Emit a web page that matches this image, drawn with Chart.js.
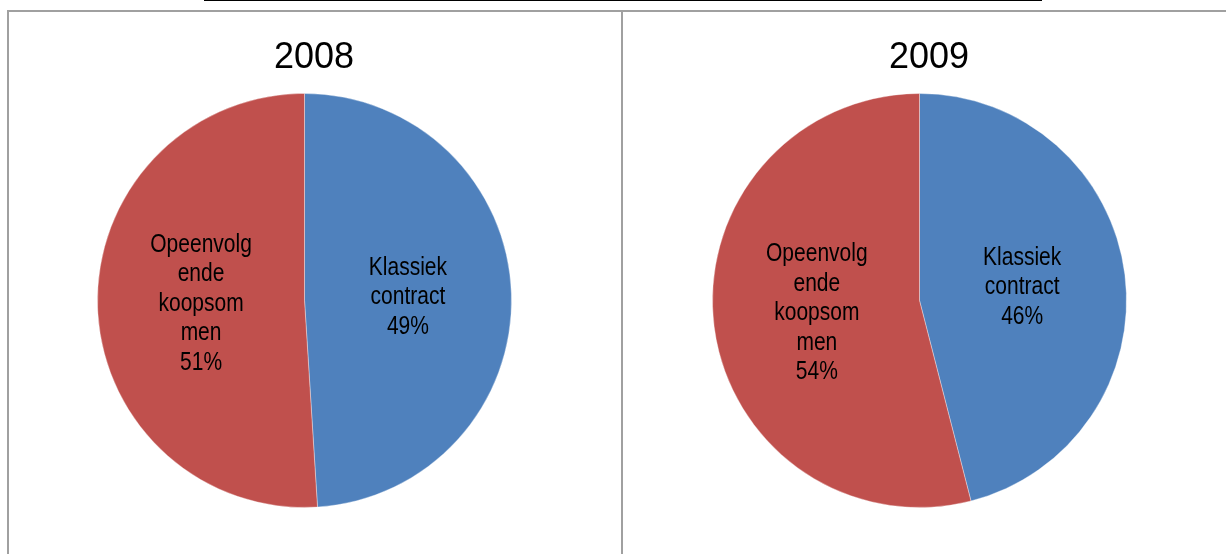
<!DOCTYPE html>
<html>
<head>
<meta charset="utf-8">
<script src="https://cdn.jsdelivr.net/npm/chart.js@4/dist/chart.umd.min.js"></script>
<style>
    html, body { margin: 0; padding: 0; background: #fff; overflow: hidden; }
    body { width: 1226px; height: 554px; position: relative; }
    .rule { position: absolute; }
    canvas { position: absolute; }
</style>
</head>
<body>
<div class="rule" style="left:204px; top:0; width:838px; height:1px; background:#000;"></div>
<div class="rule" style="left:7px; top:10px; width:1219px; height:2px; background:#a0a0a0;"></div>
<div class="rule" style="left:7px; top:10px; width:2px; height:544px; background:#a0a0a0;"></div>
<div class="rule" style="left:621px; top:10px; width:2px; height:544px; background:#a0a0a0;"></div>

<canvas id="pie-2008" width="612" height="542" style="left:9px; top:12px;"></canvas>
<canvas id="pie-2009" width="602" height="542" style="left:624px; top:12px;"></canvas>

<script>
// shares per contract type, in percent
const categories = ['Klassiek contract', 'Opeenvolgende koopsommen'];
const labelLines = [['Klassiek', 'contract'], ['Opeenvolg', 'ende', 'koopsom', 'men']];
const values2008 = [49, 51];
const values2009 = [46, 54];
const sliceColors = ['#4F81BD', '#C0504D'];

// no narrow face available, so the label font gets squeezed horizontally
const labelFont = '25px "Liberation Sans", Arial, sans-serif';
const labelSqueeze = 0.84;
const titleFont = '36px "Liberation Sans", Arial, sans-serif';

// draws the year above the pie and the wrapped labels inside each slice
const pieText = {
    id: 'pieText',
    afterDatasetsDraw(chart, args, opts) {
        const c = chart.ctx;
        c.save();
        c.fillStyle = '#000';
        c.textAlign = 'center';

        c.font = titleFont;
        c.textBaseline = 'alphabetic';
        c.fillText(opts.title, opts.titleX, opts.titleY);

        c.font = labelFont;
        c.textBaseline = 'middle';
        const meta = chart.getDatasetMeta(0);
        const values = chart.data.datasets[0].data;
        meta.data.forEach((arc, i) => {
            const pos = arc.tooltipPosition();
            const lines = labelLines[i].concat([values[i] + '%']);
            const lh = 29.5;
            const top = pos.y - (lines.length - 1) * lh / 2;
            lines.forEach((line, j) => {
                c.save();
                c.translate(pos.x, top + j * lh);
                c.scale(labelSqueeze, 1);
                c.fillText(line, 0, 0);
                c.restore();
            });
        });
        c.restore();
    }
};

function makePie(id, year, values, padRight) {
    return new Chart(document.getElementById(id), {
        type: 'pie',
        data: {
            labels: categories,
            datasets: [{
                data: values,
                backgroundColor: sliceColors,
                borderColor: 'rgba(255,255,255,0.35)',
                borderWidth: 1
            }]
        },
        options: {
            responsive: false,
            animation: false,
            layout: {
                padding: { left: 88, right: padRight, top: 81, bottom: 46 }
            },
            plugins: {
                legend: { display: false },
                tooltip: { enabled: false },
                pieText: { title: year, titleX: 305, titleY: 56 }
            }
        },
        plugins: [pieText]
    });
}

makePie('pie-2008', '2008', values2008, 109);
makePie('pie-2009', '2009', values2009, 99);
</script>
</body>
</html>
